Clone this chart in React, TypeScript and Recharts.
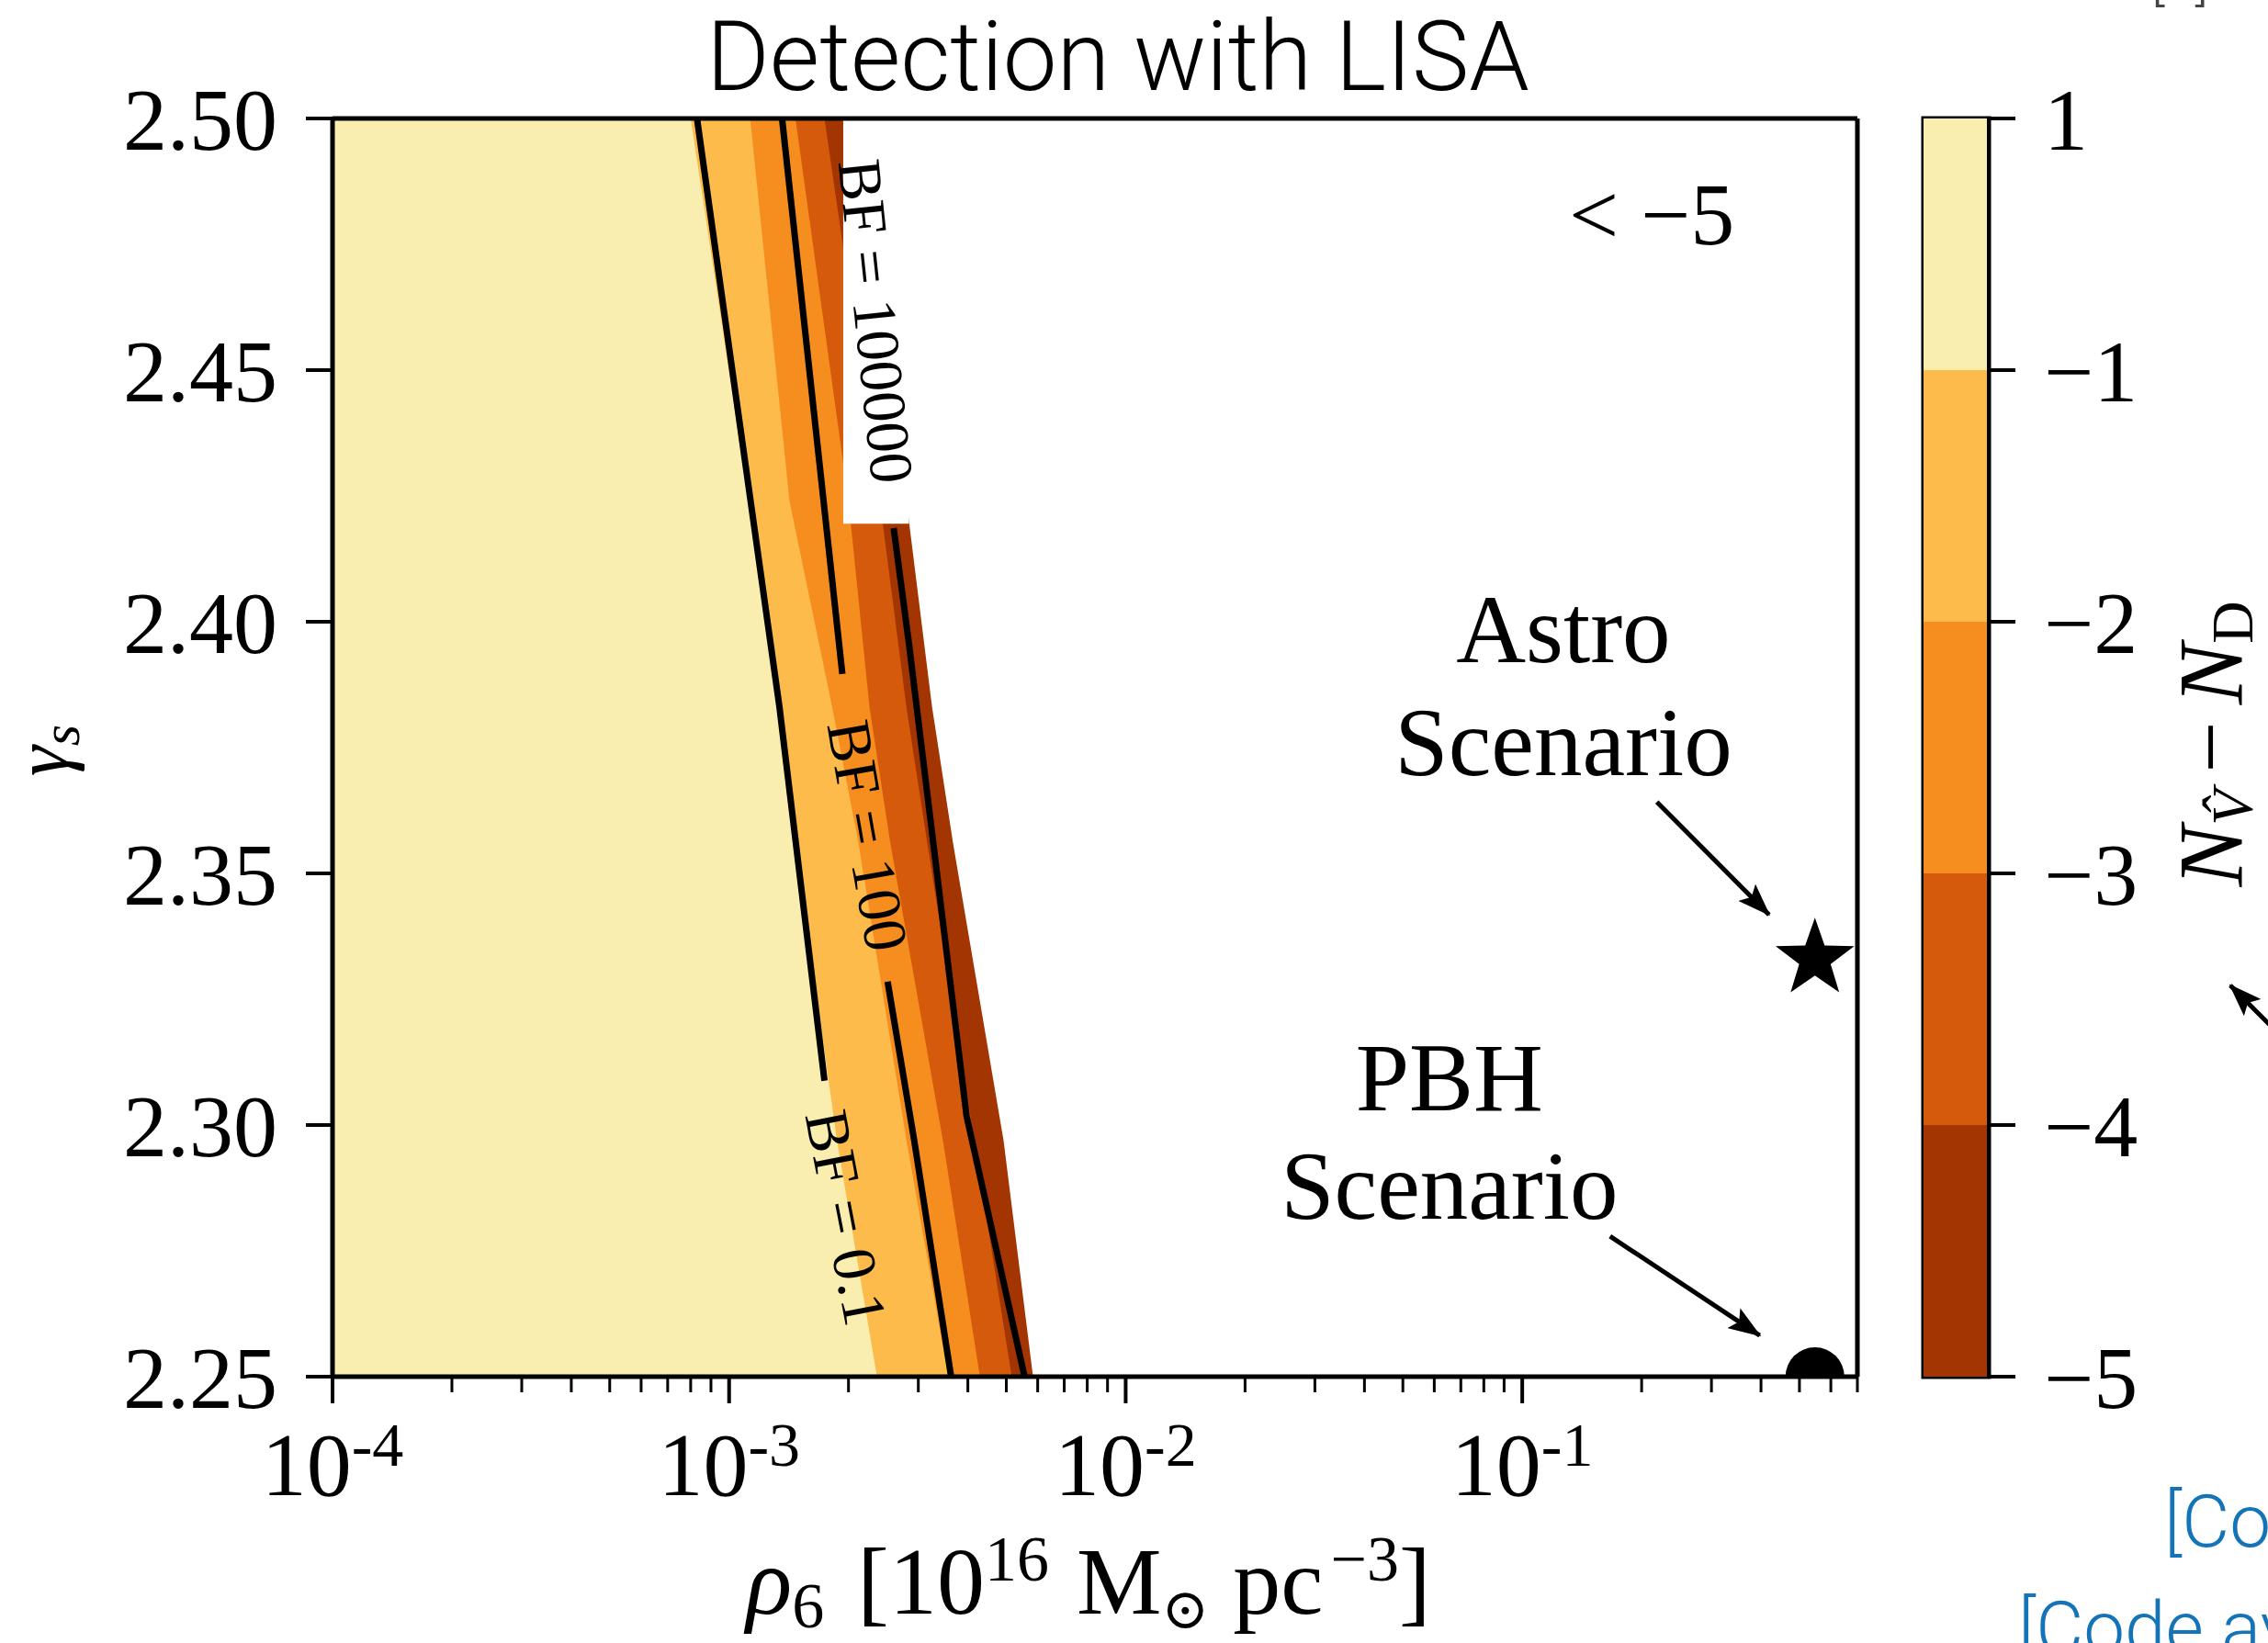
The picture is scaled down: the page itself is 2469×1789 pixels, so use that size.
import React from 'react';
import {
  ComposedChart,
  Area,
  Scatter,
  XAxis,
  YAxis,
  ReferenceArea,
  ReferenceDot,
  ReferenceLine,
  BarChart,
  Bar,
} from 'recharts';

const W = 2469;
const H = 1789;
const SERIF = '"Liberation Serif", "DejaVu Serif", serif';
const SANS = 'Roboto, "Liberation Sans", sans-serif';

const gammaRows = [2.25, 2.297, 2.356, 2.383, 2.424, 2.5];
// rho_6 at each colour edge, left to right
const edgeYellow = [2.36e-3, 1.87e-3, 1.47e-3, 1.32e-3, 1.12e-3, 8.0e-4];
const edgeLight = [3.57e-3, 2.8e-3, 2.12e-3, 1.82e-3, 1.42e-3, 1.13e-3];
const edgeOrange = [4.29e-3, 3.46e-3, 2.55e-3, 2.26e-3, 2.0e-3, 1.47e-3];
const edgeDark = [5.16e-3, 4.15e-3, 3.16e-3, 2.8e-3, 2.4e-3, 1.74e-3];
const edgeBrown = [5.84e-3, 4.92e-3, 3.67e-3, 3.25e-3, 2.8e-3, 2.0e-3];

// light -> dark
const levelColors = ['#F9EEB0', '#FCBB4A', '#F68D1F', '#D65A0C', '#A33503'];
const cbTickLabels = ['\u22125', '\u22124', '\u22123', '\u22122', '\u22121', '1'];

// black BF contour lines (gaps where the labels sit)
const bf01X = [8.3e-4, 1.34e-3, 1.74e-3];
const bf01G = [2.5, 2.383, 2.3088];
const bf100TopX = [1.36e-3, 1.93e-3];
const bf100TopG = [2.5, 2.3896];
const bf100LowX = [2.51e-3, 2.93e-3, 3.63e-3];
const bf100LowG = [2.3285, 2.2969, 2.25];
const bf1e5X = [2.6e-3, 2.84e-3, 3.97e-3, 5.56e-3];
const bf1e5G = [2.4186, 2.3958, 2.3018, 2.25];

const bfLabels = ['BF = 0.1', 'BF = 100', 'BF = 100000'];
const bfLabelX = [1.975e-3, 2.24e-3, 2.35e-3];
const bfLabelG = [2.2816, 2.3575, 2.4597];
const bfLabelAngle = [79, 80, 84];

const astroPoint = [{ x: 0.547, g: 2.333 }];
const pbhPoint = [{ x: 0.547, g: 2.25 }];

const xDomain = [1e-4, 0.7];
const yTicks = [2.25, 2.3, 2.35, 2.4, 2.45, 2.5];
const xDecades = [1e-4, 1e-3, 1e-2, 1e-1];
const xSteps = [1, 2, 3, 4, 5, 6, 7, 8, 9];
const xTicks = xDecades
  .flatMap((d) => xSteps.map((s) => Number((s * d).toPrecision(3))))
  .filter((v) => v <= xDomain[1]);

const contourRows = gammaRows.map((g, i) => ({
  g,
  b1: edgeYellow[i],
  b2: edgeLight[i],
  b3: edgeOrange[i],
  b4: edgeDark[i],
  b5: edgeBrown[i],
}));

const zip = (xs: number[], gs: number[]) => xs.map((x, i) => ({ x, g: gs[i] }));
const contourLines = [
  zip(bf01X, bf01G),
  zip(bf100TopX, bf100TopG),
  zip(bf100LowX, bf100LowG),
  zip(bf1e5X, bf1e5G),
];

const noShape = () => <g />;

const starShape = (p: any) => {
  const R = 45;
  const r = 18;
  const pts: string[] = [];
  for (let k = 0; k < 10; k++) {
    const a = -Math.PI / 2 + (k * Math.PI) / 5;
    const rad = k % 2 === 0 ? R : r;
    pts.push(`${p.cx + rad * Math.cos(a)},${p.cy + rad * Math.sin(a)}`);
  }
  return <polygon points={pts.join(' ')} fill="#000" />;
};

const halfDisc = (p: any) => {
  const r = 32;
  return <path d={`M${p.cx - r},${p.cy} A${r},${r} 0 0 1 ${p.cx + r},${p.cy} Z`} fill="#000" />;
};

const note = (lines: string[], size: number, lead: number) => (p: any) => (
  <text x={p.cx} y={p.cy} textAnchor="middle" fontFamily={SERIF} fontSize={size} fill="#000">
    {lines.map((t, i) => (
      <tspan key={t} x={p.cx} dy={i === 0 ? 0 : lead}>
        {t}
      </tspan>
    ))}
  </text>
);

const bfNote = (text: string, angle: number) => (p: any) => (
  <text
    x={p.cx}
    y={p.cy}
    transform={`rotate(${angle}, ${p.cx}, ${p.cy})`}
    textAnchor="middle"
    dominantBaseline="central"
    fontFamily={SERIF}
    fontSize={67}
    fill="#000"
  >
    {text}
  </text>
);

const XTick = (props: any) => {
  const { x, y, payload } = props;
  const lg = Math.log10(payload.value);
  const e = Math.round(lg);
  const major = Math.abs(lg - e) < 1e-6;
  return (
    <g>
      <line x1={x} x2={x} y1={y} y2={y + (major ? 29 : 17)} stroke="#000" strokeWidth={major ? 4 : 3} />
      {major && (
        <text x={x} y={y + 129} textAnchor="middle" fontFamily={SERIF} fontSize={98} fill="#000">
          10
          <tspan dy={-32} fontSize={68}>{`-${-e}`}</tspan>
        </text>
      )}
    </g>
  );
};

const App = () => {
  return (
    <div style={{ position: 'absolute', left: 0, top: 0, width: W, height: H, background: '#fff', overflow: 'hidden' }}>
      <svg width={W} height={H} style={{ position: 'absolute', left: 0, top: 0 }}>
        <defs>
          <marker
            id="arrowHead"
            viewBox="0 0 36 26"
            refX="34"
            refY="13"
            markerWidth="36"
            markerHeight="26"
            markerUnits="userSpaceOnUse"
            orient="auto"
          >
            <path d="M0,0 L36,13 L0,26 L7,13 Z" fill="#000" />
          </marker>
        </defs>
        <text x={1217} y={98} textAnchor="middle" fontFamily={SANS} fontWeight={300} fontSize={105} fill="#000">
          Detection with LISA
        </text>
        <text transform="translate(74, 817) rotate(-90)" textAnchor="middle" fontFamily={SERIF} fontSize={84} fill="#000">
          <tspan fontStyle="italic">γ</tspan>
          <tspan fontStyle="italic" fontSize={60} dy={12}>s</tspan>
        </text>
        <text x={1185} y={1757} textAnchor="middle" fontFamily={SERIF} fontSize={104} fill="#000">
          <tspan fontStyle="italic">ρ</tspan>
          <tspan fontSize={70} dy={15}>6</tspan>
          <tspan dy={-15} dx={36}>[10</tspan>
          <tspan fontSize={70} dy={-36}>16</tspan>
          <tspan dy={36} dx={30}>M</tspan>
          <tspan fontSize={62} dy={16}>⊙</tspan>
          <tspan dy={-16} dx={26}>pc</tspan>
          <tspan fontSize={70} dy={-36} dx={8}>−3</tspan>
          <tspan dy={36}>]</tspan>
        </text>
        <text transform="translate(2440, 810) rotate(-90)" textAnchor="middle" fontFamily={SERIF} fontSize={100} fill="#000">
          <tspan fontStyle="italic">N</tspan>
          <tspan fontStyle="italic" fontSize={64} dy={12}>V̂</tspan>
          <tspan dy={-12} dx={18}>−</tspan>
          <tspan fontStyle="italic" dx={18}>N</tspan>
          <tspan fontSize={64} dy={12}>D</tspan>
        </text>
        <line x1={2510} y1={1155} x2={2428} y2={1073} stroke="#000" strokeWidth={5} markerEnd="url(#arrowHead)" />
        <text x={2342} y={-1} fontFamily={SANS} fontWeight={300} fontSize={60} fill="#444">
          [1]
        </text>
        <text x={2356} y={1684} fontFamily={SANS} fontWeight={300} fontSize={80} fill="#1474B8">
          [Co
        </text>
        <text x={2197} y={1800} fontFamily={SANS} fontWeight={300} fontSize={80} fill="#1474B8">
          [Code av
        </text>
      </svg>

      <div style={{ position: 'absolute', left: 0, top: 0 }}>
        <ComposedChart
          width={W}
          height={H}
          layout="vertical"
          data={contourRows}
          margin={{ top: 129, right: 447, bottom: 0, left: 0 }}
        >
          <XAxis
            type="number"
            dataKey="x"
            scale="log"
            domain={xDomain}
            allowDataOverflow
            ticks={xTicks}
            interval={0}
            height={290}
            tickSize={0}
            tickMargin={0}
            tickLine={false}
            tick={<XTick />}
            axisLine={{ stroke: '#000', strokeWidth: 5 }}
          />
          <YAxis
            type="number"
            dataKey="g"
            domain={[2.25, 2.5]}
            reversed
            allowDataOverflow
            ticks={yTicks}
            interval={0}
            width={362}
            tickSize={29}
            tickMargin={31}
            tickFormatter={(v: number) => v.toFixed(2)}
            tick={{ fontFamily: SERIF, fontSize: 96, fill: '#000' }}
            tickLine={{ stroke: '#000', strokeWidth: 4 }}
            axisLine={{ stroke: '#000', strokeWidth: 5 }}
          />
          <Area dataKey="b5" type="linear" stroke="none" fill={levelColors[4]} fillOpacity={1} baseValue="dataMin" isAnimationActive={false} />
          <Area dataKey="b4" type="linear" stroke="none" fill={levelColors[3]} fillOpacity={1} baseValue="dataMin" isAnimationActive={false} />
          <Area dataKey="b3" type="linear" stroke="none" fill={levelColors[2]} fillOpacity={1} baseValue="dataMin" isAnimationActive={false} />
          <Area dataKey="b2" type="linear" stroke="none" fill={levelColors[1]} fillOpacity={1} baseValue="dataMin" isAnimationActive={false} />
          <Area dataKey="b1" type="linear" stroke="none" fill={levelColors[0]} fillOpacity={1} baseValue="dataMin" isAnimationActive={false} />

          <ReferenceArea x1={1.94e-3} x2={2.84e-3} y1={2.4195} y2={2.5} fill="#fff" fillOpacity={1} stroke="none" />

          {contourLines.map((seg, i) => (
            <Scatter
              key={`bf${i}`}
              data={seg}
              line={{ stroke: '#000', strokeWidth: 7 }}
              stroke="#000"
              strokeWidth={7}
              shape={noShape}
              isAnimationActive={false}
            />
          ))}
          <Scatter data={astroPoint} shape={starShape} isAnimationActive={false} />
          <Scatter data={pbhPoint} shape={halfDisc} isAnimationActive={false} />

          {bfLabels.map((t, i) => (
            <ReferenceDot key={t} x={bfLabelX[i]} y={bfLabelG[i]} r={0} shape={bfNote(t, bfLabelAngle[i])} />
          ))}
          <ReferenceDot x={0.212} y={2.475} r={0} shape={note(['< \u22125'], 96, 0)} />
          <ReferenceDot x={0.127} y={2.392} r={0} shape={note(['Astro', 'Scenario'], 105, 123)} />
          <ReferenceDot x={0.0655} y={2.303} r={0} shape={note(['PBH', 'Scenario'], 105, 118)} />

          <ReferenceLine
            segment={[{ x: 0.2185, y: 2.3642 }, { x: 0.419, y: 2.3418 }]}
            stroke="#000"
            strokeWidth={5}
            markerEnd="url(#arrowHead)"
          />
          <ReferenceLine
            segment={[{ x: 0.1665, y: 2.2779 }, { x: 0.397, y: 2.2582 }]}
            stroke="#000"
            strokeWidth={5}
            markerEnd="url(#arrowHead)"
          />
          <ReferenceLine y={2.5} stroke="#000" strokeWidth={5} />
          <ReferenceLine x={0.7} stroke="#000" strokeWidth={5} />
        </ComposedChart>
      </div>

      <div style={{ position: 'absolute', left: 2090, top: 0 }}>
        <BarChart
          width={379}
          height={H}
          data={[{ name: 'cb', s0: 1, s1: 1, s2: 1, s3: 1, s4: 1 }]}
          margin={{ top: 129, right: 0, bottom: 290, left: 4 }}
          barCategoryGap={0}
          barGap={0}
        >
          <XAxis dataKey="name" hide />
          <YAxis
            orientation="right"
            type="number"
            domain={[0, 5]}
            ticks={[0, 1, 2, 3, 4, 5]}
            interval={0}
            width={304}
            tickSize={29}
            tickMargin={31}
            tickFormatter={(v: number) => cbTickLabels[v]}
            tick={{ fontFamily: SERIF, fontSize: 96, fill: '#000', textAnchor: 'start' }}
            tickLine={{ stroke: '#000', strokeWidth: 4 }}
            axisLine={{ stroke: '#000', strokeWidth: 4 }}
          />
          <Bar dataKey="s0" stackId="cb" fill={levelColors[4]} isAnimationActive={false} />
          <Bar dataKey="s1" stackId="cb" fill={levelColors[3]} isAnimationActive={false} />
          <Bar dataKey="s2" stackId="cb" fill={levelColors[2]} isAnimationActive={false} />
          <Bar dataKey="s3" stackId="cb" fill={levelColors[1]} isAnimationActive={false} />
          <Bar dataKey="s4" stackId="cb" fill={levelColors[0]} isAnimationActive={false} />
          <ReferenceArea y1={0} y2={5} fill="none" stroke="#000" strokeWidth={5} />
        </BarChart>
      </div>
    </div>
  );
};

export default App;
